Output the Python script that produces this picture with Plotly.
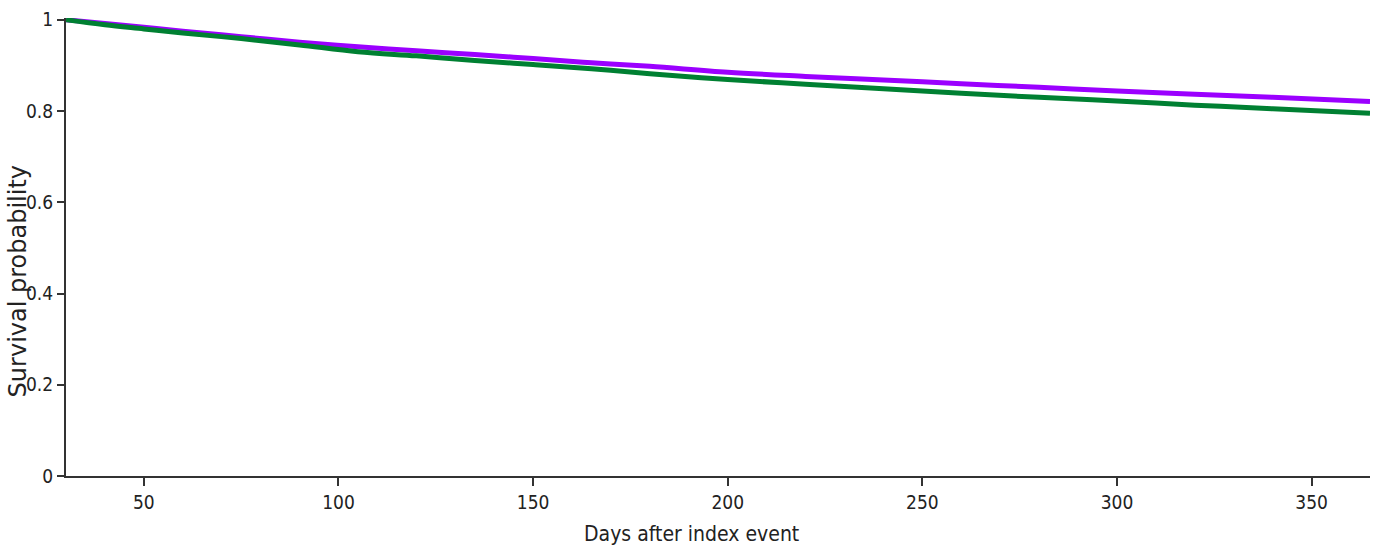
import plotly.graph_objects as go

days = [30, 40, 50, 60, 75, 90, 105, 120, 135, 150, 165, 180, 200, 220, 240, 260, 280, 300, 320, 340, 365]
surv_purple = [1.000, 0.992, 0.984, 0.975, 0.963, 0.951, 0.941, 0.932, 0.924, 0.915, 0.906, 0.898,
               0.885, 0.876, 0.868, 0.860, 0.852, 0.844, 0.837, 0.830, 0.821]
surv_green = [1.000, 0.989, 0.980, 0.971, 0.959, 0.945, 0.930, 0.921, 0.911, 0.902, 0.893, 0.882,
              0.869, 0.859, 0.849, 0.839, 0.830, 0.822, 0.813, 0.805, 0.795]

x_ticks = [50, 100, 150, 200, 250, 300, 350]
y_ticks = [0, 0.2, 0.4, 0.6, 0.8, 1]
y_tick_text = ["0", "0.2", "0.4", "0.6", "0.8", "1"]

fig = go.Figure()
fig.add_trace(go.Scatter(x=days, y=surv_purple, mode="lines", line=dict(color="#9B00FF", width=5),
                         line_shape="spline", showlegend=False))
fig.add_trace(go.Scatter(x=days, y=surv_green, mode="lines", line=dict(color="#008032", width=5),
                         line_shape="spline", showlegend=False))

narrow = "DejaVu Sans Condensed, Liberation Sans Narrow, Roboto Condensed, DejaVu Sans"
axis_font = dict(family=narrow, size=19, color="#222222")
fig.update_layout(
    width=1378, height=549,
    margin=dict(l=66, r=8, t=18, b=73),
    paper_bgcolor="white", plot_bgcolor="white",
    xaxis=dict(range=[30, 365], tickvals=x_ticks, showgrid=False, zeroline=False,
               showline=True, linecolor="#333333", linewidth=2, ticks="outside", ticklen=8,
               tickwidth=1.5, tickcolor="#333333", tickfont=axis_font),
    yaxis=dict(range=[0, 1.004], tickvals=y_ticks, ticktext=y_tick_text, showgrid=False,
               zeroline=False, showline=True, linecolor="#333333", linewidth=2, ticks="outside",
               ticklen=7, tickwidth=1.5, tickcolor="#333333", tickfont=axis_font),
    annotations=[
        dict(text="Survival probability", xref="paper", yref="paper", x=-0.0365, y=0.4258,
             textangle=-90, showarrow=False, xanchor="center", yanchor="middle",
             font=dict(family="DejaVu Sans", size=24, color="#222222")),
        dict(text="Days after index event", xref="paper", yref="paper", x=0.480, y=-0.1266,
             showarrow=False, xanchor="center", yanchor="middle",
             font=dict(family=narrow, size=21, color="#222222")),
    ],
)

fig.write_html("out.html")
